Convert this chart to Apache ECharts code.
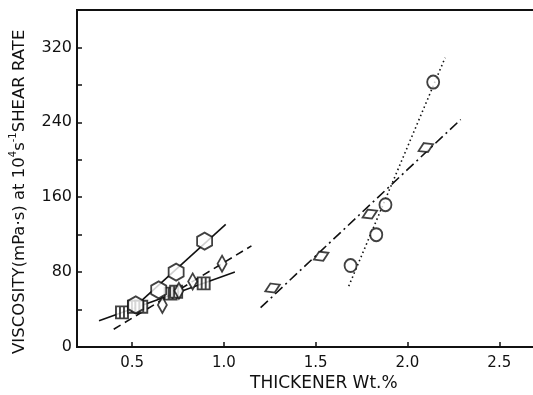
<!DOCTYPE html>
<html>
<head>
<meta charset="utf-8">
<script src="https://cdn.jsdelivr.net/npm/echarts@6/dist/echarts.min.js"></script>
<style>
  html, body { margin: 0; padding: 0; background: #fff; }
  #chart { width: 533px; height: 395px; }
</style>
</head>
<body>
<div id="chart"></div>
<script>
// Viscosity at 10^4 s^-1 shear rate vs thickener content, five grease series

// [thickener wt%, viscosity mPa·s]
const hexPoints = [[0.52, 45], [0.645, 61], [0.74, 80], [0.895, 113]];
const squarePoints = [[0.445, 37], [0.51, 43], [0.55, 43], [0.71, 57], [0.74, 59], [0.89, 68]];
const tallDiamondPoints = [[0.665, 45], [0.755, 60], [0.83, 70], [0.99, 89]];
const circlePoints = [[1.69, 87], [1.83, 120], [1.88, 152], [2.14, 283]];
const flatDiamondPoints = [[1.265, 63], [1.53, 97], [1.795, 142], [2.10, 213]];

// fitted trend lines: start and end points
const hexFit = [[0.52, 44], [1.01, 131]];
const squareFit = [[0.32, 28], [1.06, 80]];
const tallDiamondFit = [[0.40, 19], [1.15, 108]];
const circleFit = [[1.68, 65], [2.205, 309]];
const flatDiamondFit = [[1.20, 42], [2.29, 243]];

const xTicks = [0.5, 1.0, 1.5, 2.0, 2.5];
const yLabelStep = 80;

const hexPath = 'path://M8.66,0 L17.32,5 L17.32,15 L8.66,20 L0,15 L0,5 Z';
const barredSquarePath = 'path://M0,0 L12,0 L12,12 L0,12 Z M4,0 L4,12 M8,0 L8,12';

const FONT = 'DejaVu Sans';

function fitLine(data, type) {
  return {
    type: 'line', data: data, symbol: 'none', silent: true, z: 1,
    lineStyle: { color: '#111', width: 1.6, type: type }
  };
}
function markers(data, symbol, size, rotate) {
  return {
    type: 'scatter', data: data, symbol: symbol, symbolSize: size,
    symbolRotate: rotate || 0, z: 3,
    itemStyle: { color: '#fff', borderColor: '#111', borderWidth: 1.9 }
  };
}

const chart = echarts.init(document.getElementById('chart'), null, { renderer: 'canvas' });
chart.setOption({
  animation: false,
  backgroundColor: '#fff',
  grid: {
    left: 77, width: 459, top: 10, bottom: 48,
    outerBoundsMode: 'none', containLabel: false,
    show: true, borderColor: '#111', borderWidth: 2, backgroundColor: 'transparent'
  },
  xAxis: {
    type: 'value', min: 0.2, max: 2.7,
    splitLine: { show: false },
    axisLine: { lineStyle: { color: '#111', width: 2 } },
    axisTick: { inside: true, length: 5, customValues: xTicks, lineStyle: { color: '#111', width: 1.5 } },
    axisLabel: {
      customValues: xTicks, margin: 9, color: '#111', fontSize: 15, fontFamily: FONT,
      formatter: v => v.toFixed(1)
    }
  },
  yAxis: {
    type: 'value', min: 0, max: 360, interval: 40,
    splitLine: { show: false },
    axisLine: { lineStyle: { color: '#111', width: 2 } },
    axisTick: { inside: true, length: 5, lineStyle: { color: '#111', width: 1.5 } },
    axisLabel: {
      margin: 5, color: '#111', fontSize: 16, fontFamily: FONT,
      formatter: v => (v % yLabelStep === 0 && v <= 320) ? String(v) : ''
    }
  },
  graphic: [
    {
      type: 'text', left: 250, top: 375,
      style: { text: 'THICKENER Wt.%', fill: '#111', font: '17px "' + FONT + '"' }
    },
    {
      type: 'text', x: 8, y: 354, rotation: Math.PI / 2,
      style: {
        text: '{b|VISCOSITY(mPa·s) at 10}{s|4}{b|s}{s|-1}{b|SHEAR RATE}',
        fill: '#111',
        rich: {
          b: { fontSize: 16.5, fontFamily: FONT, fill: '#111', lineHeight: 20, verticalAlign: 'bottom' },
          s: { fontSize: 10, fontFamily: FONT, fill: '#111', lineHeight: 20, verticalAlign: 'top' }
        }
      }
    }
  ],
  series: [
    fitLine(hexFit, 'solid'),
    fitLine(squareFit, 'solid'),
    fitLine(tallDiamondFit, [8, 5]),
    fitLine(circleFit, [1.5, 3]),
    fitLine(flatDiamondFit, [10, 4, 2, 4]),
    markers(squarePoints, barredSquarePath, [12, 12]),
    markers(tallDiamondPoints, 'diamond', [9, 16]),
    markers(hexPoints, hexPath, [15, 17]),
    markers(circlePoints, 'circle', [12, 13]),
    markers(flatDiamondPoints, 'diamond', [16, 10], 25)
  ]
});
</script>
</body>
</html>
